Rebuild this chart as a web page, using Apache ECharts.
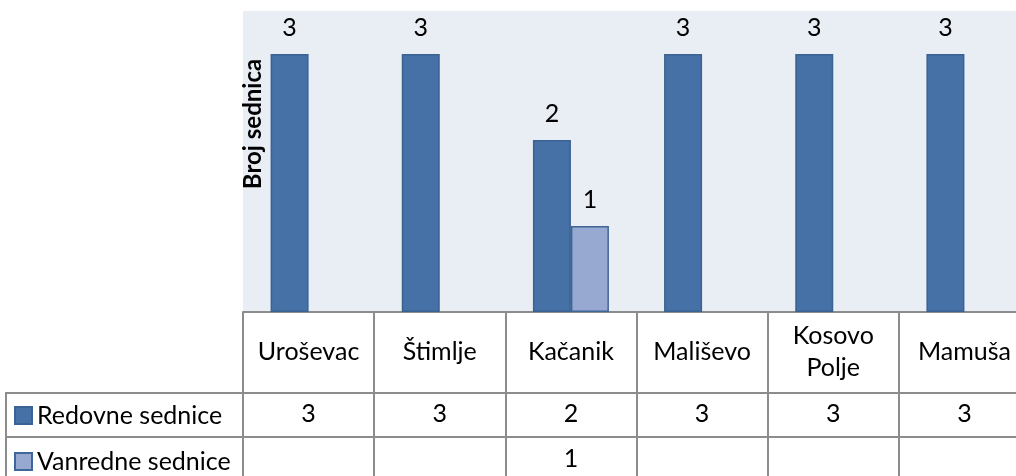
<!DOCTYPE html>
<html lang="sr">
<head>
    <meta charset="UTF-8">
    <script src="https://cdn.jsdelivr.net/npm/echarts@6/dist/echarts.min.js"></script>
    <title>Broj sednica</title>
</head>
<body style="margin:0;background:#fff;">
<div id="main" style="width: 1016px;height:476px;"></div>

<script type="text/javascript">
    // podaci
    var opstine = ['Uroševac', 'Štimlje', 'Kačanik', 'Mališevo', 'Kosovo\nPolje', 'Mamuša'];
    var redovne = [3, 3, 2, 3, 3, 3];
    var vanredne = [null, null, 1, null, null, null];
    var nazivi = ['Redovne sednice', 'Vanredne sednice'];

    var font = 'Lato';
    var fs = 25;
    var lineGray = '#8c8c8c';

    var myChart = echarts.init(document.getElementById('main'));

    // red tabele ispod grafikona (dodatna x osa sa pomerajem)
    function tableAxis(offset, margin, values) {
        return {
            type: 'category',
            data: opstine,
            position: 'bottom',
            offset: offset,
            axisLine: { show: true, lineStyle: { color: lineGray, width: 2 } },
            axisTick: { show: false },
            axisLabel: {
                interval: 0,
                margin: margin,
                verticalAlign: 'middle',
                color: '#000',
                fontFamily: font,
                fontSize: fs,
                formatter: function (v, i) {
                    return values[i] == null ? '' : String(values[i]);
                }
            }
        };
    }

    var option = {
        backgroundColor: '#fff',
        animation: false,
        grid: {
            left: 243,
            top: 11,
            width: 787,
            height: 301,
            outerBoundsMode: 'none',
            show: true,
            backgroundColor: '#e9edf4',
            borderWidth: 0
        },
        legend: {
            orient: 'vertical',
            left: 14,
            top: 403,
            padding: 0,
            icon: 'rect',
            itemWidth: 17,
            itemHeight: 17,
            itemGap: 21,
            textStyle: { fontFamily: font, fontSize: fs, color: '#000', lineHeight: 23 },
            data: nazivi
        },
        xAxis: [
            {
                type: 'category',
                data: opstine,
                position: 'bottom',
                axisLine: { show: true, lineStyle: { color: lineGray, width: 2 } },
                axisTick: { show: true, interval: 0, length: 170, lineStyle: { color: lineGray, width: 2 } },
                axisLabel: {
                    interval: 0,
                    margin: 40,
                    verticalAlign: 'middle',
                    color: '#000',
                    fontFamily: font,
                    fontSize: fs,
                    lineHeight: 32
                }
            },
            tableAxis(81, 21, redovne),
            tableAxis(125, 22, vanredne)
        ],
        yAxis: {
            type: 'value',
            min: 0,
            max: 3.5,
            axisLine: { show: false },
            axisTick: { show: false },
            axisLabel: { show: false },
            splitLine: { show: false }
        },
        graphic: [
            { type: 'line', shape: { x1: 6, y1: 393, x2: 243, y2: 393 }, style: { stroke: lineGray, lineWidth: 2 } },
            { type: 'line', shape: { x1: 6, y1: 437, x2: 243, y2: 437 }, style: { stroke: lineGray, lineWidth: 2 } },
            { type: 'line', shape: { x1: 6, y1: 392, x2: 6, y2: 476 }, style: { stroke: lineGray, lineWidth: 2 } },
            {
                type: 'text', x: 253, y: 124, rotation: Math.PI / 2,
                style: {
                    text: 'Broj sednica', fill: '#000',
                    font: 'bold 24px Lato',
                    textAlign: 'center', textVerticalAlign: 'middle'
                }
            }
        ],
        series: [
            {
                name: nazivi[0],
                type: 'bar',
                barWidth: 38,
                barGap: '0%',
                data: redovne,
                itemStyle: { color: '#4571a7', borderColor: '#3a6293', borderWidth: 1.5 },
                label: { show: true, position: 'top', distance: 14, color: '#000', fontFamily: font, fontSize: fs }
            },
            {
                name: nazivi[1],
                type: 'bar',
                barWidth: 38,
                barGap: '0%',
                data: vanredne,
                itemStyle: { color: '#97a9d1', borderColor: '#3f6698', borderWidth: 1.5 },
                label: { show: true, position: 'top', distance: 14, color: '#000', fontFamily: font, fontSize: fs }
            }
        ]
    };

    myChart.setOption(option);
</script>
</body>
</html>
